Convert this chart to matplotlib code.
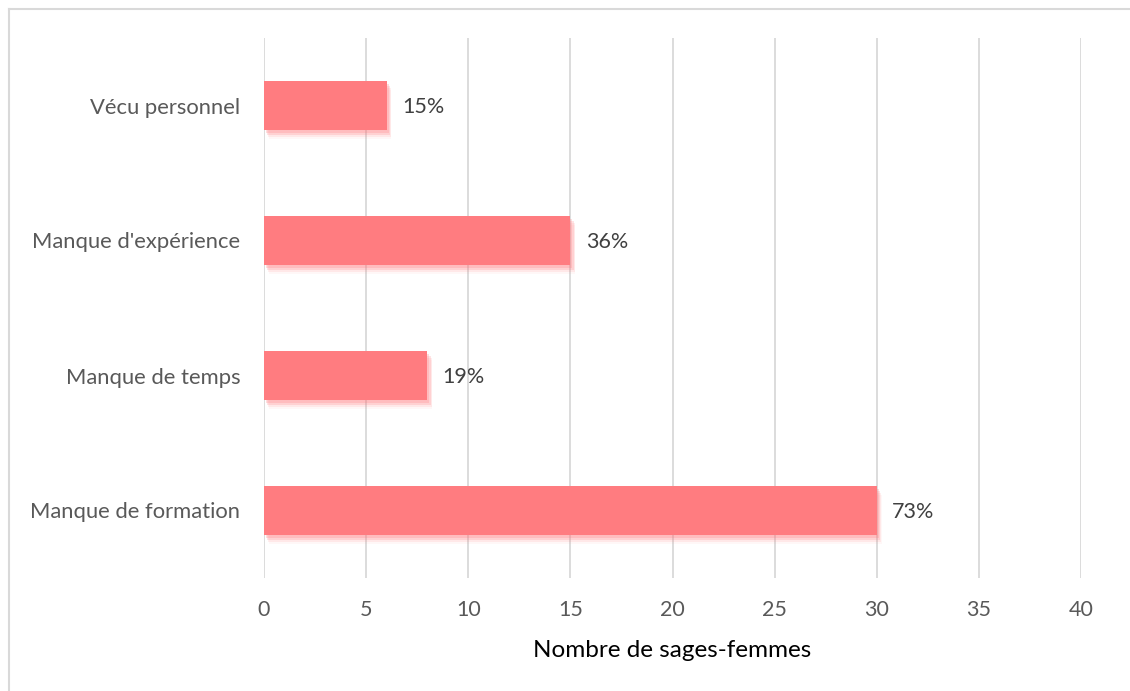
import matplotlib
matplotlib.use("Agg")
import matplotlib.pyplot as plt
import matplotlib.patheffects as pe
from matplotlib.lines import Line2D

categories = ["Manque de formation", "Manque de temps", "Manque d'expérience", "Vécu personnel"]
values = [30, 8, 15, 6]
pct_labels = ["73%", "19%", "36%", "15%"]
xticks = [0, 5, 10, 15, 20, 25, 30, 35, 40]
xlabel = "Nombre de sages-femmes"

plt.rcParams['font.family'] = ['Lato', 'DejaVu Sans']

fig = plt.figure(figsize=(11.3, 6.91), dpi=100)
ax = fig.add_axes([264/1130, 1-578/691, (1081-264)/1130, (578-38)/691])

bar_color = "#FF7C80"
shadow = [pe.SimplePatchShadow(offset=(ox, oy), shadow_rgbFace="#FF7C80", alpha=a)
          for ox, oy, a in [(1.5, -2, 0.25), (2.5, -3.5, 0.2), (3, -5, 0.12), (3.5, -6.5, 0.06)]]
bars = ax.barh(range(len(categories)), values, height=0.36, color=bar_color, zorder=3)
for b in bars:
    b.set_path_effects(shadow + [pe.Normal()])

for i, (v, t) in enumerate(zip(values, pct_labels)):
    ax.annotate(t, (v, i), xytext=(11, -1), textcoords="offset points",
                va="center", ha="left", fontsize=15.5, color="#404040", zorder=4)

ax.set_xlim(0, 40)
ax.set_ylim(-0.5, len(categories) - 0.5)
ax.set_xticks(xticks)
ax.set_xticklabels([str(x) for x in xticks], fontsize=15.5, color="#595959")
ax.set_yticks(range(len(categories)))
ax.set_yticklabels(categories, fontsize=15.8, color="#595959")
ax.tick_params(axis="x", length=0, pad=16)
ax.tick_params(axis="y", length=0, pad=17)
ax.grid(axis="x", color="#D9D9D9", linewidth=1.3, zorder=0)
for s in ax.spines.values():
    s.set_visible(False)
ax.set_xlabel(xlabel, fontsize=17.5, color="#000000", labelpad=14)

fig.add_artist(Line2D([9/1130, 1], [1-9/691, 1-9/691], color="#D9D9D9", linewidth=1.5, transform=fig.transFigure))
fig.add_artist(Line2D([9/1130, 9/1130], [0, 1-9/691], color="#D9D9D9", linewidth=1.5, transform=fig.transFigure))

fig.savefig("out.png", dpi=100)
